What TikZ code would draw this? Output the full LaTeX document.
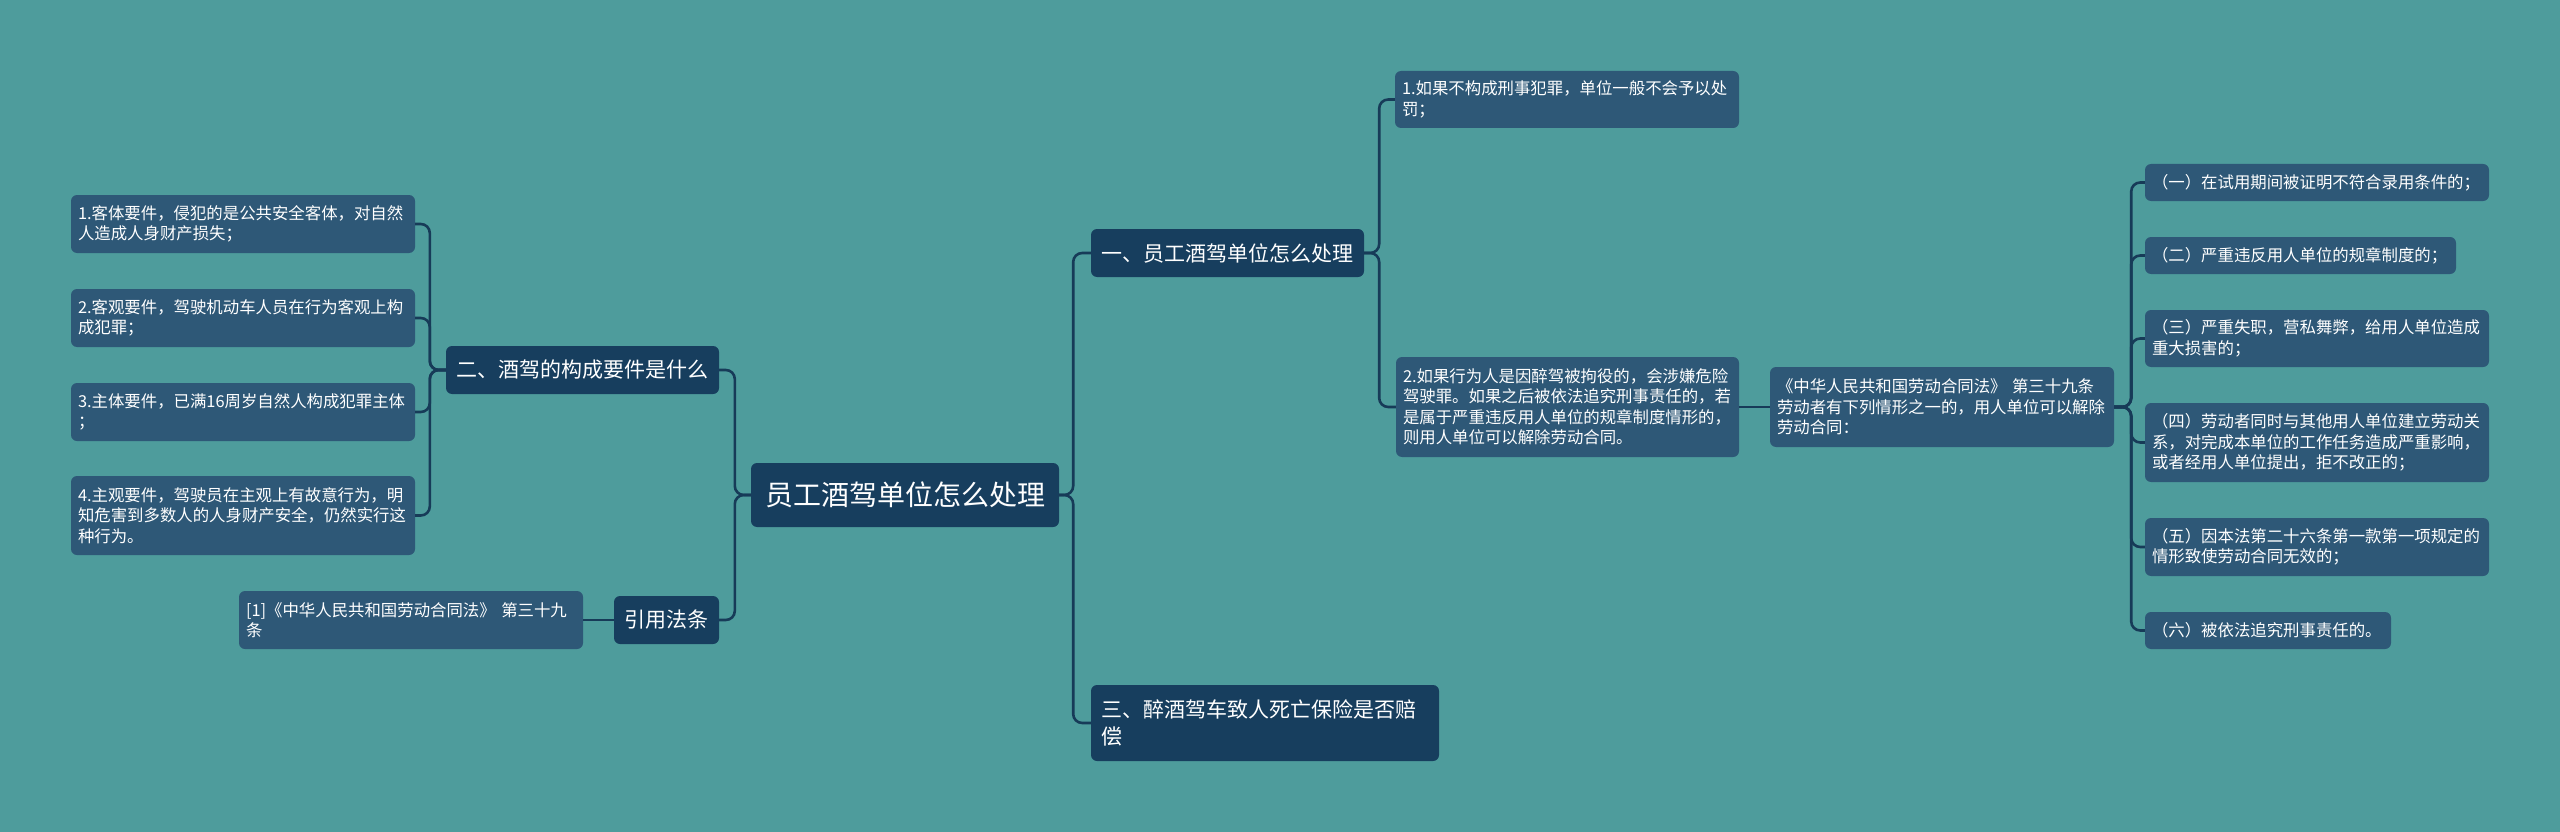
\documentclass[tikz,border=0pt]{standalone}
\usepackage{fontspec}
\setmainfont{Noto Sans CJK SC}
\definecolor{bgc}{HTML}{4E9C9C}
\definecolor{rootc}{HTML}{173E5E}
\definecolor{leafc}{HTML}{2E5877}
\definecolor{linec}{HTML}{173B58}
\newcommand\leaffnt{\fontsize{16.4}{20.5}\selectfont}
\newcommand\brfnt{\fontsize{21}{27}\selectfont}
\newcommand\rootfnt{\fontsize{28}{34}\selectfont}
\tikzset{
  rootbox/.style={fill=rootc, text=white, rounded corners=6pt, inner sep=0pt, align=center, font=\rootfnt},
  brbox/.style={fill=rootc, text=white, rounded corners=6pt, inner sep=0pt, align=center, font=\brfnt},
  leafbox/.style={fill=leafc, text=white, rounded corners=6pt, inner xsep=7pt, inner ysep=0pt, align=left, font=\leaffnt},
  conn/.style={draw=linec, line width=2.6pt, rounded corners=9pt},
}
\begin{document}
\begin{tikzpicture}[x=1pt,y=-1pt]
\fill[bgc] (0,0) rectangle (2560,832);
\useasboundingbox (0,0) rectangle (2560,832);

% root and branches
\node[rootbox, minimum width=308pt, minimum height=64pt] (root) at (905,495) {员工酒驾单位怎么处理};
\node[brbox, minimum width=273pt, minimum height=48pt] (b2) at (582.5,370) {二、酒驾的构成要件是什么};
\node[brbox, minimum width=105pt, minimum height=48pt] (bref) at (666.5,620) {引用法条};
\node[brbox, minimum width=273pt, minimum height=48pt] (b1) at (1227.5,253) {一、员工酒驾单位怎么处理};
\node[brbox, inner xsep=10pt, align=left, text width=328pt, minimum height=76pt] (b3) at (1265,723) {三、醉酒驾车致人死亡保险是否赔\\偿};

% left leaves
\node[leafbox, text width=330pt, minimum height=58pt] (l1) at (243,224) {1.客体要件，侵犯的是公共安全客体，对自然\\人造成人身财产损失；};
\node[leafbox, text width=330pt, minimum height=58pt] (l2) at (243,318) {2.客观要件，驾驶机动车人员在行为客观上构\\成犯罪；};
\node[leafbox, text width=330pt, minimum height=58pt] (l3) at (243,412) {3.主体要件，已满16周岁自然人构成犯罪主体\\；};
\node[leafbox, text width=330pt, minimum height=79pt] (l4) at (243,515.5) {4.主观要件，驾驶员在主观上有故意行为，明\\知危害到多数人的人身财产安全，仍然实行这\\种行为。};
\node[leafbox, text width=330pt, minimum height=58pt] (lref) at (411,620) {[1]《中华人民共和国劳动合同法》 第三十九\\条};

% right leaves
\node[leafbox, text width=330pt, minimum height=57pt] (r1) at (1567,99.5) {1.如果不构成刑事犯罪，单位一般不会予以处\\罚；};
\node[leafbox, text width=329pt, minimum height=100pt] (r2) at (1567.5,407) {2.如果行为人是因醉驾被拘役的，会涉嫌危险\\驾驶罪。如果之后被依法追究刑事责任的，若\\是属于严重违反用人单位的规章制度情形的，\\则用人单位可以解除劳动合同。};
\node[leafbox, text width=330pt, minimum height=80pt] (law) at (1942,407) {《中华人民共和国劳动合同法》 第三十九条\\劳动者有下列情形之一的，用人单位可以解除\\劳动合同：};

\node[leafbox, text width=330pt, minimum height=37pt] (i1) at (2317,182.5) {（一）在试用期间被证明不符合录用条件的；};
\node[leafbox, text width=297pt, minimum height=37pt] (i2) at (2300.5,255.5) {（二）严重违反用人单位的规章制度的；};
\node[leafbox, text width=330pt, minimum height=57pt] (i3) at (2317,338.5) {（三）严重失职，营私舞弊，给用人单位造成\\重大损害的；};
\node[leafbox, text width=330pt, minimum height=79pt] (i4) at (2317,442.5) {（四）劳动者同时与其他用人单位建立劳动关\\系，对完成本单位的工作任务造成严重影响，\\或者经用人单位提出，拒不改正的；};
\node[leafbox, text width=330pt, minimum height=58pt] (i5) at (2317,547) {（五）因本法第二十六条第一款第一项规定的\\情形致使劳动合同无效的；};
\node[leafbox, text width=232pt, minimum height=37pt] (i6) at (2268,630.5) {（六）被依法追究刑事责任的。};

% connectors
\foreach \b in {b1,b3} \draw[conn] (root.east) -- ++(14,0) |- (\b.west);
\foreach \b in {b2,bref} \draw[conn] (root.west) -- ++(-16,0) |- (\b.east);
\foreach \l in {l1,l2,l3,l4} \draw[conn] (b2.west) -- ++(-16,0) |- (\l.east);
\draw[conn] (bref.west) -- (lref.east);
\foreach \r in {r1,r2} \draw[conn] (b1.east) -- ++(15,0) |- (\r.west);
\draw[conn] (r2.east) -- (law.west);
\foreach \i in {i1,i2,i3,i4,i5,i6} \draw[conn] (law.east) -- ++(17,0) |- (\i.west);
\end{tikzpicture}
\end{document}
